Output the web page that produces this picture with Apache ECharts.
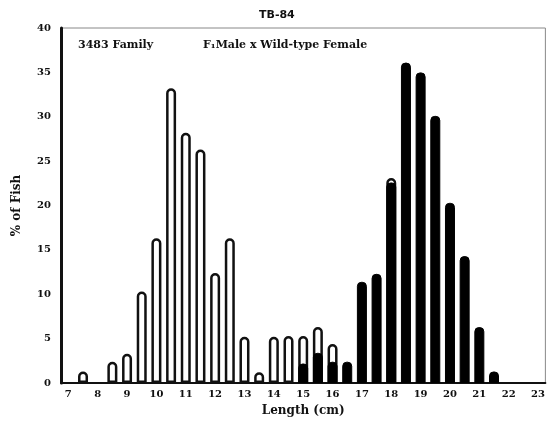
<!DOCTYPE html>
<html>
<head>
<meta charset="utf-8">
<script src="https://cdn.jsdelivr.net/npm/echarts@6/dist/echarts.min.js"></script>
<style>
  html, body { margin: 0; padding: 0; background: #fff; }
  #chart { width: 548px; height: 428px; }
</style>
</head>
<body>
<div id="chart"></div>
<script>
// Length bins (cm) and percentage of fish in each bin
const familyLengths = [7.5, 8.5, 9, 9.5, 10, 10.5, 11, 11.5, 12, 12.5, 13, 13.5, 14, 14.5, 15, 15.5, 16, 18];
const familyPercent = [1.3, 2.4, 3.3, 10.3, 16.3, 33.2, 28.2, 26.3, 12.4, 16.3, 5.2, 1.2, 5.2, 5.3, 5.3, 6.3, 4.4, 23.1];

const crossLengths = [15, 15.5, 16, 16.5, 17, 17.5, 18, 18.5, 19, 19.5, 20, 20.5, 21, 21.5];
const crossPercent = [2.2, 3.4, 2.4, 2.4, 11.4, 12.3, 22.6, 36.1, 35.0, 30.1, 20.3, 14.3, 6.3, 1.3];

const xTicks = [7, 8, 9, 10, 11, 12, 13, 14, 15, 16, 17, 18, 19, 20, 21, 22, 23];

const chartTitle = 'TB-84';
const familyLabel = '3483 Family';
const crossLabel = 'F\u2081Male x Wild-type Female';

const pairs = (xs, ys) => xs.map((x, i) => [x, ys[i]]);

const chart = echarts.init(document.getElementById('chart'));
const labelFont = { color: '#111', fontSize: 10, fontWeight: 'bold', fontFamily: 'DejaVu Serif' };

chart.setOption({
  animation: false,
  backgroundColor: '#fff',
  title: {
    text: chartTitle,
    left: 254, top: 5,
    textStyle: { fontSize: 11, fontWeight: 'bold', color: '#111', fontFamily: 'DejaVu Sans' }
  },
  grid: {
    left: 61, right: 2, top: 28, bottom: 45,
    show: true, borderColor: '#888', borderWidth: 1
  },
  xAxis: {
    type: 'value',
    min: 6.75, max: 23.25,
    name: 'Length (cm)',
    nameLocation: 'middle',
    nameGap: 22,
    nameTextStyle: { fontSize: 12, fontWeight: 'bold', color: '#111', fontFamily: 'DejaVu Serif' },
    axisLine: { lineStyle: { color: '#111', width: 2 } },
    axisTick: { show: false },
    splitLine: { show: false },
    axisLabel: Object.assign({ customValues: xTicks, margin: 6 }, labelFont)
  },
  yAxis: {
    type: 'value',
    min: 0, max: 40, interval: 5,
    name: '% of Fish',
    nameLocation: 'middle',
    nameGap: 38,
    nameTextStyle: { fontSize: 12, fontWeight: 'bold', color: '#111', fontFamily: 'DejaVu Serif' },
    axisLine: { show: true, lineStyle: { color: '#111', width: 3 } },
    axisTick: { show: false },
    splitLine: { show: false },
    axisLabel: Object.assign({ margin: 10 }, labelFont)
  },
  graphic: [
    { type: 'text', left: 78, top: 40,
      style: { text: familyLabel, fontSize: 11, fontWeight: 'bold', fill: '#111', fontFamily: 'DejaVu Serif' } },
    { type: 'text', left: 203, top: 40,
      style: { text: crossLabel, fontSize: 11, fontWeight: 'bold', fill: '#111', fontFamily: 'DejaVu Serif' } }
  ],
  series: [
    {
      name: familyLabel,
      type: 'bar',
      data: pairs(familyLengths, familyPercent),
      barWidth: 10,
      barGap: '-100%',
      z: 2,
      itemStyle: { color: '#fff', borderColor: '#111', borderWidth: 2.5, borderRadius: [4, 4, 0, 0] }
    },
    {
      name: crossLabel,
      type: 'bar',
      data: pairs(crossLengths, crossPercent),
      barWidth: 10,
      barGap: '-100%',
      z: 3,
      itemStyle: { color: '#000', borderColor: '#000', borderWidth: 1, borderRadius: [4, 4, 0, 0] }
    }
  ]
});
</script>
</body>
</html>
